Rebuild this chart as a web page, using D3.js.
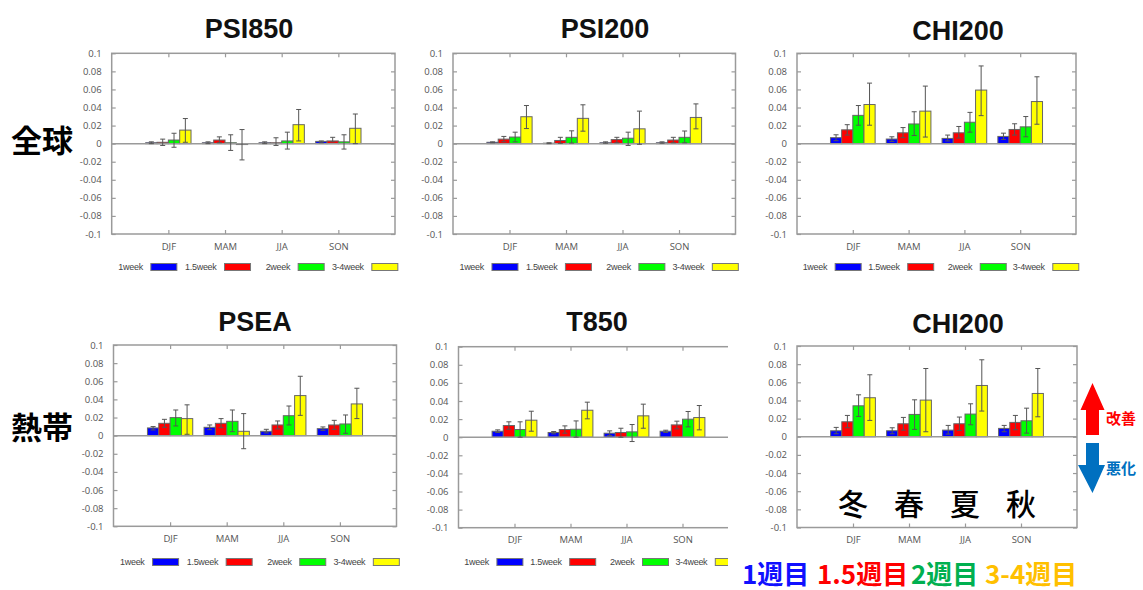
<!DOCTYPE html>
<html>
<head>
<meta charset="utf-8">
<script src="https://cdn.jsdelivr.net/npm/d3@7"></script>
<style>
  html, body { margin: 0; padding: 0; background: #fff; }
  svg { display: block; }
</style>
</head>
<body>
<svg id="chart" width="1143" height="590"></svg>
<script>
// Seasons, forecast leads and y ticks
const seasons = ["DJF", "MAM", "JJA", "SON"];
const leads = ["1week", "1.5week", "2week", "3-4week"];
const leadColors = ["#0000ff", "#ff0000", "#00ff00", "#ffff00"];
const yTicks = [-0.1, -0.08, -0.06, -0.04, -0.02, 0, 0.02, 0.04, 0.06, 0.08, 0.1];
const seasonKanji = ["冬", "春", "夏", "秋"];
const regionLabels = ["全球", "熱帯"];
const weekLabels = ["1週目", "1.5週目", "2週目", "3-4週目"];
const weekColors = ["#1010ff", "#ff0000", "#00b050", "#ffc000"];

// Score improvement per lead (rows) and season (columns), with error-bar bounds
const psi850Val = [[0.001, 0.001, 0.001, 0.0025], [0.0015, 0.004, 0.001, 0.003], [0.004, 0.001, 0.003, 0.002], [0.015, -0.001, 0.021, 0.017]];
const psi850Lo  = [[0.0, 0.0, 0.0, 0.001], [-0.002, 0.001, -0.002, 0.002], [-0.004, -0.0075, -0.006, -0.006], [0.0015, -0.018, 0.003, 0.0]];
const psi850Hi  = [[0.002, 0.002, 0.002, 0.003], [0.005, 0.0075, 0.0065, 0.007], [0.0115, 0.0098, 0.0127, 0.0098], [0.0278, 0.0156, 0.0378, 0.0328]];

const psi200Val = [[0.0015, 0.0005, 0.001, 0.001], [0.005, 0.0035, 0.0045, 0.004], [0.0073, 0.007, 0.006, 0.007], [0.0298, 0.028, 0.0164, 0.029]];
const psi200Lo  = [[0.001, 0.0, 0.0005, 0.0005], [0.002, 0.0004, 0.001, 0.001], [0.002, 0.0007, -0.002, 0.001], [0.0167, 0.0138, -0.0007, 0.0164]];
const psi200Hi  = [[0.002, 0.001, 0.002, 0.002], [0.008, 0.007, 0.007, 0.007], [0.0127, 0.0142, 0.0127, 0.014], [0.0422, 0.043, 0.036, 0.044]];

const chi200gVal = [[0.0066, 0.0051, 0.0058, 0.008], [0.0153, 0.012, 0.012, 0.0157], [0.0313, 0.0218, 0.0237, 0.0186], [0.0433, 0.036, 0.0593, 0.0466]];
const chi200gLo  = [[0.0033, 0.0025, 0.003, 0.0047], [0.0095, 0.0066, 0.0062, 0.0095], [0.0204, 0.009, 0.0127, 0.0076], [0.0204, 0.0073, 0.031, 0.0215]];
const chi200gHi  = [[0.0098, 0.0076, 0.0095, 0.0116], [0.021, 0.0178, 0.019, 0.022], [0.0422, 0.0353, 0.0346, 0.030], [0.067, 0.0637, 0.086, 0.074]];

const pseaVal = [[0.0085, 0.0092, 0.0048, 0.0077], [0.0136, 0.0136, 0.0118, 0.0118], [0.0199, 0.0158, 0.022, 0.0129], [0.0188, 0.0048, 0.0442, 0.035]];
const pseaLo  = [[0.0063, 0.0066, 0.003, 0.0059], [0.0092, 0.0088, 0.0074, 0.007], [0.0107, 0.0044, 0.0118, 0.0026], [0.0015, -0.0144, 0.0224, 0.0188]];
const pseaHi  = [[0.010, 0.0118, 0.007, 0.0096], [0.018, 0.0188, 0.0162, 0.0169], [0.0283, 0.0283, 0.0327, 0.0228], [0.034, 0.0243, 0.0655, 0.0523]];

const t850Val = [[0.0066, 0.0052, 0.0044, 0.0066], [0.0129, 0.0085, 0.0052, 0.0136], [0.0085, 0.0088, 0.0059, 0.0199], [0.0188, 0.0298, 0.0236, 0.0217]];
const t850Lo  = [[0.0052, 0.0037, 0.0018, 0.0052], [0.0088, 0.0044, 0.0, 0.0092], [0.0, 0.0, -0.0048, 0.0114], [0.0066, 0.0203, 0.0099, 0.0081]];
const t850Hi  = [[0.0081, 0.0063, 0.007, 0.0077], [0.017, 0.0125, 0.0099, 0.0177], [0.017, 0.018, 0.014, 0.0284], [0.0287, 0.0387, 0.0365, 0.035]];

const chi200tVal = [[0.0066, 0.0066, 0.0073, 0.0092], [0.0165, 0.0143, 0.0143, 0.0158], [0.0341, 0.0246, 0.025, 0.0176], [0.043, 0.0404, 0.0565, 0.0477]];
const chi200tLo  = [[0.0033, 0.0033, 0.0029, 0.0055], [0.0099, 0.0073, 0.007, 0.0077], [0.0224, 0.0081, 0.0132, 0.004], [0.018, 0.0055, 0.0283, 0.022]];
const chi200tHi  = [[0.0103, 0.0099, 0.0125, 0.0125], [0.0235, 0.0213, 0.0217, 0.0235], [0.0462, 0.0407, 0.0363, 0.0315], [0.0683, 0.0752, 0.0848, 0.0752]];

// Panel layout: plot box in pixels, title position, legend row, optional clip edge
const panels = [
  { title: "PSI850", val: psi850Val, lo: psi850Lo, hi: psi850Hi, x0: 111.7, x1: 395, y0: 53.3, y1: 234, tx: 249, ty: 38, legY: 267 },
  { title: "PSI200", val: psi200Val, lo: psi200Lo, hi: psi200Hi, x0: 453, x1: 735.5, y0: 53.3, y1: 234, tx: 605, ty: 38, legY: 267 },
  { title: "CHI200", val: chi200gVal, lo: chi200gLo, hi: chi200gHi, x0: 797, x1: 1076, y0: 53.3, y1: 234, tx: 958, ty: 40, legY: 267 },
  { title: "PSEA", val: pseaVal, lo: pseaLo, hi: pseaHi, x0: 113.5, x1: 396.5, y0: 345, y1: 526.3, tx: 255, ty: 331, legY: 562 },
  { title: "T850", val: t850Val, lo: t850Lo, hi: t850Hi, x0: 458.5, x1: 738.5, y0: 346.7, y1: 527.7, tx: 597, ty: 331, legY: 562, clipX: 728 },
  { title: "CHI200", val: chi200tVal, lo: chi200tLo, hi: chi200tHi, x0: 797, x1: 1077, y0: 346, y1: 527.5, tx: 958, ty: 333, legY: null }
];

const svg = d3.select("#chart");
const axisColor = "#9a9a9a";
const textColor = "#555";
const barW = 0.2;

panels.forEach((p, pi) => {
  const x = d3.scaleLinear().domain([0, 5]).range([p.x0, p.x1]);
  const y = d3.scaleLinear().domain([-0.1, 0.1]).range([p.y1, p.y0]);
  const g = svg.append("g");

  if (p.clipX) {
    svg.append("defs").append("clipPath").attr("id", "clip" + pi)
      .append("rect").attr("x", 0).attr("y", 0).attr("width", p.clipX).attr("height", 590);
    g.attr("clip-path", `url(#clip${pi})`);
  }

  // Frame
  g.append("rect")
    .attr("x", p.x0).attr("y", p.y0)
    .attr("width", p.x1 - p.x0).attr("height", p.y1 - p.y0)
    .attr("fill", "none").attr("stroke", axisColor).attr("stroke-width", 1.5);

  // Y axis: labels on the left, inward ticks on both sides
  const yAxis = d3.axisLeft(y).tickValues(yTicks).tickSize(-4).tickPadding(10)
    .tickFormat(v => String(+v.toFixed(2)));
  const ya = g.append("g").attr("transform", `translate(${p.x0},0)`).call(yAxis);
  ya.select(".domain").remove();
  ya.selectAll("line").attr("stroke", axisColor).attr("stroke-width", 1.2);
  ya.selectAll("text").attr("fill", textColor).style("font-family", "'Open Sans', sans-serif").style("font-size", "9.5px");

  const yr = g.append("g").attr("transform", `translate(${p.x1},0)`)
    .call(d3.axisRight(y).tickValues(yTicks).tickSize(-4).tickFormat(""));
  yr.select(".domain").remove();
  yr.selectAll("line").attr("stroke", axisColor).attr("stroke-width", 1.2);

  // X axis: season ticks top and bottom
  const seasonPos = seasons.map((s, i) => i + 1);
  const xb = g.append("g").attr("transform", `translate(0,${p.y1})`)
    .call(d3.axisBottom(x).tickValues(seasonPos).tickSize(-4).tickPadding(9)
      .tickFormat((d, i) => seasons[i]));
  xb.select(".domain").remove();
  xb.selectAll("line").attr("stroke", axisColor).attr("stroke-width", 1.2);
  xb.selectAll("text").attr("fill", textColor).style("font-family", "'Open Sans', sans-serif").style("font-size", "9.5px");

  const xt = g.append("g").attr("transform", `translate(0,${p.y0})`)
    .call(d3.axisTop(x).tickValues(seasonPos).tickSize(-4).tickFormat(""));
  xt.select(".domain").remove();
  xt.selectAll("line").attr("stroke", axisColor).attr("stroke-width", 1.2);

  // Bars
  const rows = [];
  leads.forEach((l, li) => seasons.forEach((s, si) => {
    rows.push({ li, si, v: p.val[li][si], lo: p.lo[li][si], hi: p.hi[li][si] });
  }));

  g.selectAll("rect.bar").data(rows).enter().append("rect")
    .attr("class", "bar")
    .attr("x", d => x(d.si + 1 - 0.4 + d.li * barW))
    .attr("width", d => x(barW) - x(0))
    .attr("y", d => y(Math.max(0, d.v)))
    .attr("height", d => Math.abs(y(d.v) - y(0)))
    .attr("fill", d => leadColors[d.li])
    .attr("stroke", "#666").attr("stroke-width", 1);

  // Zero line
  g.append("line")
    .attr("x1", p.x0).attr("x2", p.x1).attr("y1", y(0)).attr("y2", y(0))
    .attr("stroke", axisColor).attr("stroke-width", 1.5);

  // Error bars
  const eb = g.selectAll("g.err").data(rows).enter().append("g").attr("class", "err")
    .attr("stroke", "#555").attr("stroke-width", 1);
  const cx = d => x(d.si + 1 - 0.4 + (d.li + 0.5) * barW);
  eb.append("line").attr("x1", cx).attr("x2", cx).attr("y1", d => y(d.lo)).attr("y2", d => y(d.hi));
  eb.append("line").attr("x1", d => cx(d) - 2.5).attr("x2", d => cx(d) + 2.5).attr("y1", d => y(d.hi)).attr("y2", d => y(d.hi));
  eb.append("line").attr("x1", d => cx(d) - 2.5).attr("x2", d => cx(d) + 2.5).attr("y1", d => y(d.lo)).attr("y2", d => y(d.lo));

  // Title
  svg.append("text").attr("x", p.tx).attr("y", p.ty).attr("text-anchor", "middle")
    .style("font-family", "'Liberation Sans', Arial, sans-serif").style("font-weight", "bold")
    .style("font-size", "27px").attr("fill", "#111").text(p.title);

  // Legend row
  if (p.legY !== null) {
    const w = p.x1 - p.x0;
    const leg = g.append("g");
    leads.forEach((l, li) => {
      const bxRight = p.x0 + 0.23 * w + li * 0.26 * w;
      leg.append("rect").attr("x", bxRight - 26).attr("y", p.legY - 3.5).attr("width", 26).attr("height", 7)
        .attr("fill", leadColors[li]).attr("stroke", "#777").attr("stroke-width", 1);
      leg.append("text").attr("x", bxRight - 34).attr("y", p.legY + 3).attr("text-anchor", "end")
        .style("font-family", "'Liberation Sans Narrow', 'Liberation Sans', sans-serif").style("font-size", "9px")
        .style("letter-spacing", "-0.3px").attr("fill", "#444").text(l);
    });
  }
});

// Region labels
const regionY = [152, 439];
regionLabels.forEach((t, i) => {
  svg.append("text").attr("x", 11).attr("y", regionY[i])
    .style("font-family", "'Noto Sans CJK JP', sans-serif").style("font-weight", "bold")
    .style("font-size", "31px").attr("fill", "#000").text(t);
});

// Season names under the tropical CHI200 panel
const px6 = d3.scaleLinear().domain([0, 5]).range([panels[5].x0, panels[5].x1]);
seasonKanji.forEach((t, i) => {
  svg.append("text").attr("x", px6(i + 1)).attr("y", 515).attr("text-anchor", "middle")
    .style("font-family", "'Noto Sans CJK JP', sans-serif").style("font-weight", "500")
    .style("font-size", "30px").attr("fill", "#000").text(t);
});

// Improvement / degradation arrows
const arrows = svg.append("g");
arrows.append("path")
  .attr("d", "M1092.5,383 L1104.5,410 L1099,410 L1099,435 L1086,435 L1086,410 L1080.5,410 Z")
  .attr("fill", "#ff0000");
arrows.append("path")
  .attr("d", "M1086,443 L1099,443 L1099,465 L1105,465 L1092.5,493 L1078,465 L1086,465 Z")
  .attr("fill", "#0070c0");
arrows.append("text").attr("x", 1106).attr("y", 424)
  .style("font-family", "'Noto Sans CJK JP', sans-serif").style("font-weight", "bold")
  .style("font-size", "15px").attr("fill", "#ff0000").text("改善");
arrows.append("text").attr("x", 1106).attr("y", 474)
  .style("font-family", "'Noto Sans CJK JP', sans-serif").style("font-weight", "bold")
  .style("font-size", "15px").attr("fill", "#0070c0").text("悪化");

// Lead-time key in Japanese
const weekX = [742, 817, 911, 985];
weekLabels.forEach((t, i) => {
  svg.append("text").attr("x", weekX[i]).attr("y", 584)
    .style("font-family", "'Noto Sans CJK JP', sans-serif").style("font-weight", "bold")
    .style("font-size", "26px")
    .attr("fill", weekColors[i]).text(t);
});
</script>
</body>
</html>
